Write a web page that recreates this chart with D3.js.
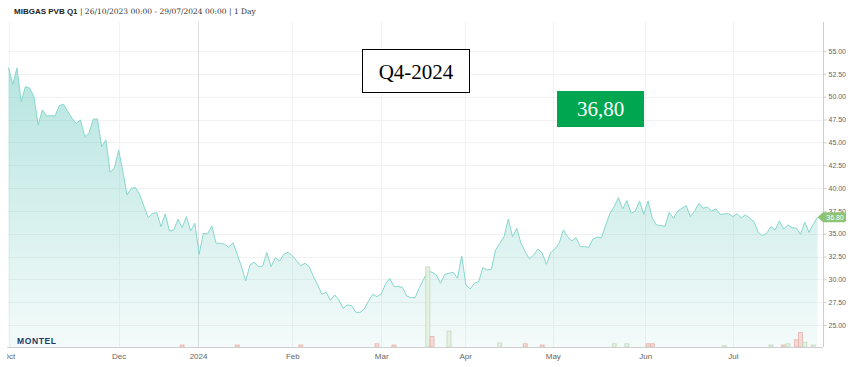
<!DOCTYPE html>
<html>
<head>
<meta charset="utf-8">
<script src="https://cdn.jsdelivr.net/npm/d3@7"></script>
<style>
  body { margin: 0; background: #fff; }
  svg { display: block; }
</style>
</head>
<body>
<svg id="chart"></svg>
<script>
// daily settlement prices, one per trading day (26/10/2023 .. 29/07/2024)
const prices = [
  53.18, 51.36, 53.12, 49.46, 51.10, 50.93, 50.00, 46.90, 48.55, 47.89,
  47.92, 47.89, 49.02, 49.17, 48.36, 47.64, 47.09, 47.45, 45.62, 46.00,
  47.53, 47.56, 44.53, 45.26, 41.72, 42.16, 44.17, 41.79, 39.24, 39.97,
  40.04, 39.24, 37.96, 36.75, 37.23, 37.30, 35.77, 37.16, 35.30, 35.40,
  36.58, 35.66, 36.86, 35.30, 36.14, 32.74, 35.04, 34.97, 35.84, 33.95,
  33.95, 33.84, 33.51, 34.01, 32.74, 31.39, 29.82, 31.57, 31.87, 31.39,
  31.46, 32.92, 31.39, 32.37, 32.01, 32.74, 32.96, 32.59, 32.04, 31.50,
  31.76, 31.39, 30.29, 29.38, 28.36, 28.58, 27.70, 28.29, 27.74, 26.83,
  27.19, 27.12, 26.39, 26.39, 26.75, 27.63, 28.36, 28.10, 28.40, 29.46,
  30.11, 29.20, 29.20, 29.13, 28.18, 27.99, 27.99, 29.09, 30.01, 30.91,
  30.77, 30.48, 29.57, 30.55, 30.66, 30.77, 30.11, 32.56, 29.38, 28.94,
  29.57, 29.74, 31.28, 31.02, 31.10, 33.21, 33.95, 34.67, 36.61, 34.67,
  35.59, 33.95, 33.03, 32.23, 32.67, 33.32, 32.85, 31.65, 32.92, 33.32,
  33.95, 35.41, 34.67, 34.20, 34.56, 33.58, 33.58, 33.51, 34.42, 34.61,
  34.56, 35.95, 37.23, 37.96, 38.94, 37.71, 38.61, 37.23, 37.49, 38.58,
  37.12, 38.58, 36.69, 35.95, 35.88, 35.81, 37.34, 36.69, 37.49, 37.78,
  38.07, 36.86, 37.49, 38.33, 37.78, 37.92, 37.49, 37.71, 37.12, 37.16,
  37.19, 36.86, 37.19, 36.75, 37.05, 36.69, 36.31, 35.15, 34.78, 35.04,
  35.77, 35.41, 36.39, 35.51, 35.95, 35.66, 35.59, 34.93, 36.25, 35.15,
  36.03, 36.80
]

// month ticks on the ordinal (trading day) axis
const tickIdx = [0, 26, 44.75, 67, 88, 107.8, 128.5, 150.33, 171]
const tickLabels = ['Oct', 'Dec', '2024', 'Feb', 'Mar', 'Apr', 'May', 'Jun', 'Jul']
const yTicks = [25, 27.5, 30, 32.5, 35, 37.5, 40, 42.5, 45, 47.5, 50, 52.5, 55]

// traded volume (relative), bar colour by direction
const volIdx = [41, 54, 69, 87, 91, 99, 100, 104, 116, 122, 126, 143, 146, 151, 152, 169, 180, 183, 184, 186, 187, 188, 190]
const volVal = [2.5, 2.5, 2.5, 4, 2.5, 100, 13, 20, 5, 4, 2.5, 4, 4, 4, 4, 1.5, 2.5, 2.5, 4, 9, 18, 6, 2.5]
const volUp = [0, 0, 0, 0, 0, 1, 0, 1, 1, 0, 0, 1, 1, 0, 0, 1, 1, 0, 1, 0, 0, 1, 1]

const title = 'MIBGAS PVB Q1'
const subtitle = ' | 26/10/2023 00:00 - 29/07/2024 00:00 | 1 Day'
const contract = 'Q4-2024'
const lastPrice = '36,80'

const width = 851
const height = 367
const plotLeft = 8, plotRight = 823, plotTop = 22, plotBottom = 347

const svg = d3.select('#chart').attr('width', width).attr('height', height)

const x = d3.scaleLinear().domain([0, prices.length - 1]).range([8.5, 817.5])
const y = d3.scaleLinear().domain([25, 55]).range([325, 51])
const v = d3.scaleLinear().domain([0, 100]).range([plotBottom, 267])

const defs = svg.append('defs')
const grad = defs.append('linearGradient')
  .attr('id', 'areaFill')
  .attr('gradientUnits', 'userSpaceOnUse')
  .attr('x1', 0).attr('y1', 60).attr('x2', 0).attr('y2', plotBottom)
grad.append('stop').attr('offset', 0).attr('stop-color', '#70cbc1').attr('stop-opacity', 0.52)
grad.append('stop').attr('offset', 1).attr('stop-color', '#70cbc1').attr('stop-opacity', 0.08)

// clip for the x labels (local coords of the axis group)
defs.append('clipPath').attr('id', 'xlab')
  .append('rect').attr('x', 7).attr('y', 0).attr('width', width).attr('height', 20)

// horizontal grid
svg.append('g')
  .selectAll('line')
  .data(yTicks)
  .join('line')
  .attr('x1', plotLeft).attr('x2', plotRight)
  .attr('y1', d => Math.round(y(d)) + 0.5)
  .attr('y2', d => Math.round(y(d)) + 0.5)
  .attr('stroke', '#f1f1f1')

// vertical grid
svg.append('g')
  .selectAll('line')
  .data(tickIdx)
  .join('line')
  .attr('x1', d => Math.round(x(d)) + 0.5)
  .attr('x2', d => Math.round(x(d)) + 0.5)
  .attr('y1', plotTop).attr('y2', plotBottom)
  .attr('stroke', (d, i) => tickLabels[i] === '2024' ? '#dedede' : '#f2f2f2')

// price area + line
const area = d3.area()
  .x((d, i) => x(i))
  .y0(plotBottom)
  .y1(d => y(d))
svg.append('path')
  .datum(prices)
  .attr('d', area)
  .attr('fill', 'url(#areaFill)')

const line = d3.line()
  .x((d, i) => x(i))
  .y(d => y(d))
svg.append('path')
  .datum(prices)
  .attr('d', line)
  .attr('fill', 'none')
  .attr('stroke', '#86d7ce')
  .attr('stroke-width', 1)

// volume bars
svg.append('g')
  .selectAll('rect')
  .data(volIdx)
  .join('rect')
  .attr('x', d => x(d) - 2)
  .attr('width', 4)
  .attr('y', (d, i) => v(volVal[i]))
  .attr('height', (d, i) => plotBottom - v(volVal[i]))
  .attr('fill', (d, i) => volUp[i] ? '#e3efdf' : '#f4d6d2')
  .attr('fill-opacity', 0.9)
  .attr('stroke', (d, i) => volUp[i] ? '#c4d9bf' : '#e6b4ad')
  .attr('stroke-width', 0.8)

// x axis
const xAxis = svg.append('g')
  .attr('transform', `translate(0,${plotBottom})`)
  .attr('clip-path', 'url(#xlab)')
  .call(d3.axisBottom(x).tickValues(tickIdx).tickFormat((d, i) => tickLabels[i]).tickSize(0).tickPadding(6))
xAxis.select('.domain').remove()
xAxis.selectAll('text')
  .attr('fill', '#666')
  .style('font-family', '"Liberation Sans Narrow", "Liberation Sans", Arial, sans-serif')
  .style('font-size', '8px')
svg.append('line')
  .attr('x1', 7).attr('x2', plotRight)
  .attr('y1', plotBottom + 0.5).attr('y2', plotBottom + 0.5)
  .attr('stroke', '#cfcfcf')

// y axis on the right
const yAxis = svg.append('g')
  .attr('transform', `translate(${plotRight + 0.5},0)`)
  .call(d3.axisRight(y).tickValues(yTicks).tickFormat(d3.format('.2f')).tickSize(3).tickSizeOuter(0).tickPadding(2))
yAxis.select('.domain')
  .attr('d', `M0,${plotTop}V${plotBottom}`)
  .attr('stroke', '#cfcfcf')
yAxis.selectAll('.tick line').attr('stroke', '#cfcfcf')
yAxis.selectAll('text')
  .attr('fill', '#666')
  .style('font-family', '"Liberation Sans Narrow", "Liberation Sans", Arial, sans-serif')
  .style('font-size', '7px')

// last price tag
const last = prices[prices.length - 1]
const ty = y(last)
svg.append('path')
  .attr('d', `M${x(prices.length - 1)},${ty} L${plotRight},${ty - 5} H${plotRight + 21} Q${plotRight + 23},${ty - 5} ${plotRight + 23},${ty - 3} V${ty + 3} Q${plotRight + 23},${ty + 5} ${plotRight + 21},${ty + 5} H${plotRight} Z`)
  .attr('fill', '#8cc474')
svg.append('text')
  .attr('x', plotRight + 12).attr('y', ty + 2.5)
  .attr('text-anchor', 'middle')
  .attr('fill', '#fff')
  .style('font-family', '"Liberation Sans Narrow", "Liberation Sans", Arial, sans-serif')
  .style('font-size', '7px')
  .text(d3.format('.2f')(last))

// title
const t = svg.append('text')
  .attr('x', 14).attr('y', 14)
  .attr('fill', '#222')
t.append('tspan')
  .style('font-family', '"Liberation Sans", Arial, sans-serif')
  .style('font-weight', 'bold')
  .style('font-size', '8px')
  .text(title)
t.append('tspan')
  .style('font-family', '"DejaVu Serif", Georgia, serif')
  .style('font-size', '7.5px')
  .attr('fill', '#333')
  .text(subtitle)

// Montel logo
svg.append('text')
  .attr('x', 17).attr('y', 344)
  .attr('fill', '#1d3a6b')
  .style('font-family', '"Liberation Sans", Arial, sans-serif')
  .style('font-weight', 'bold')
  .style('font-size', '8.5px')
  .style('letter-spacing', '0.6px')
  .text('MONTEL')

// contract label box
svg.append('rect')
  .attr('x', 362.5).attr('y', 49.5).attr('width', 107).attr('height', 43)
  .attr('fill', '#fff').attr('stroke', '#000')
svg.append('text')
  .attr('x', 416).attr('y', 79)
  .attr('text-anchor', 'middle')
  .attr('fill', '#000')
  .style('font-family', '"Liberation Serif", "Times New Roman", serif')
  .style('font-size', '21px')
  .text(contract)

// current price box
svg.append('rect')
  .attr('x', 557).attr('y', 91).attr('width', 87).attr('height', 36)
  .attr('fill', '#00a650')
svg.append('text')
  .attr('x', 600.5).attr('y', 116)
  .attr('text-anchor', 'middle')
  .attr('fill', '#fff')
  .style('font-family', '"Liberation Serif", "Times New Roman", serif')
  .style('font-size', '21px')
  .text(lastPrice)
</script>
</body>
</html>
